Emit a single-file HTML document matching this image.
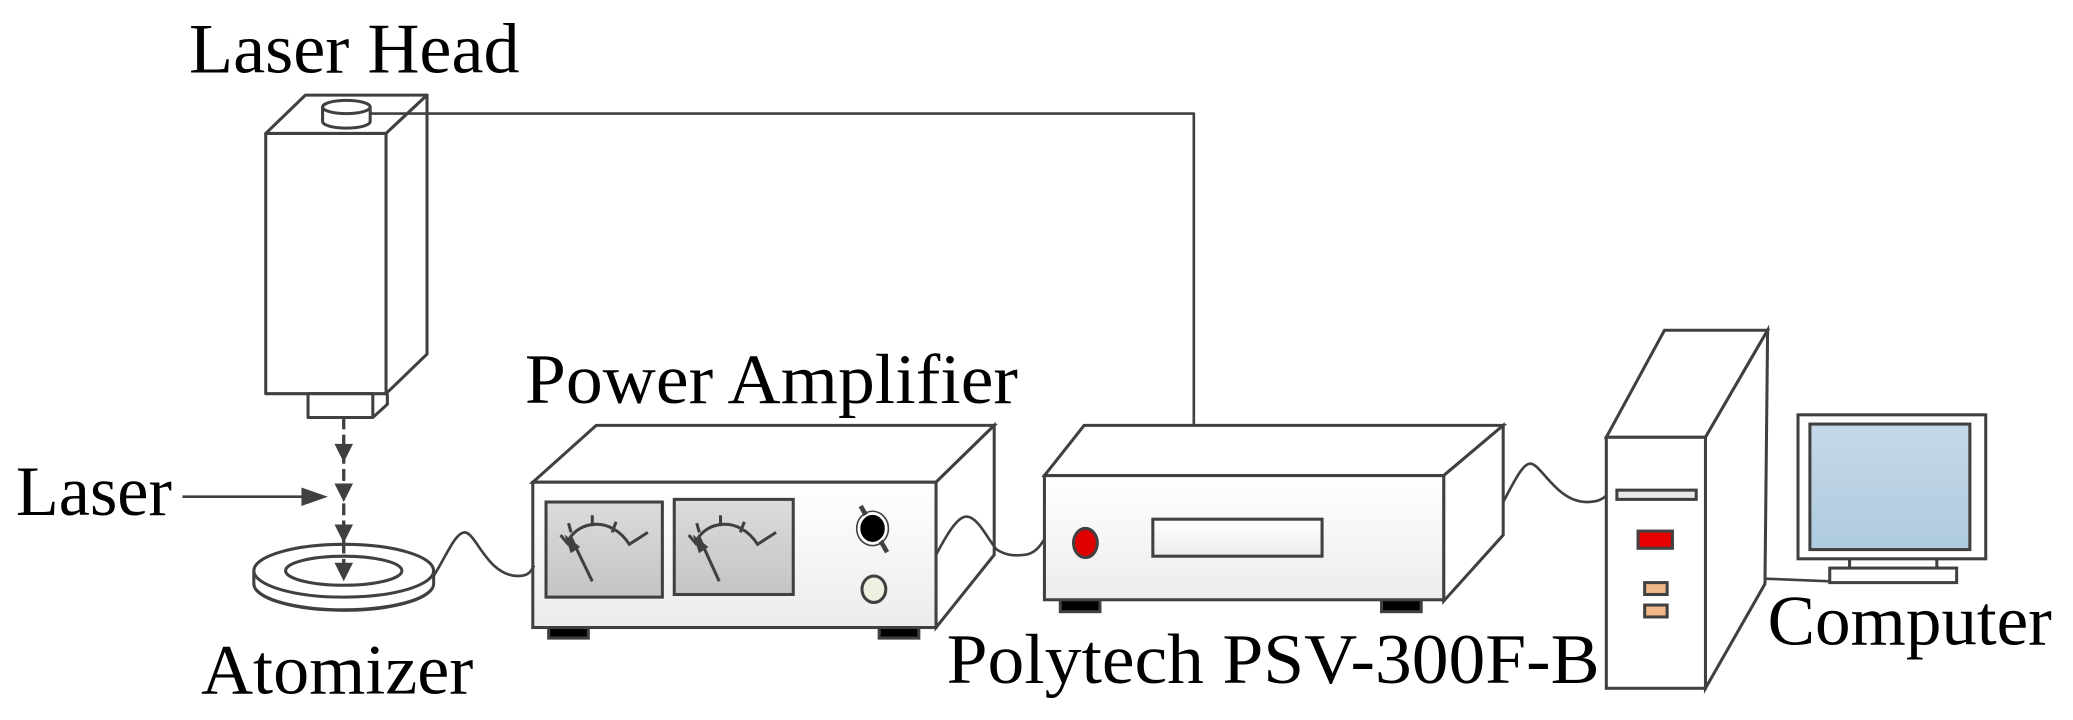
<!DOCTYPE html>
<html><head><meta charset="utf-8"><style>
html,body{margin:0;padding:0;background:#fff;}
svg{display:block;}
text{font-family:"Liberation Serif",serif;fill:#000;}
</style></head><body>
<svg width="2073" height="720" viewBox="0 0 1568 545" preserveAspectRatio="none" xmlns="http://www.w3.org/2000/svg">
<defs>
<linearGradient id="fg" x1="0" y1="0" x2="0" y2="1"><stop offset="0" stop-color="#ffffff"/><stop offset="1" stop-color="#ececec"/></linearGradient>
<linearGradient id="mg" x1="0" y1="0" x2="0" y2="1"><stop offset="0" stop-color="#dcdcdc"/><stop offset="1" stop-color="#c4c4c4"/></linearGradient>
<linearGradient id="sg" x1="0" y1="0" x2="0" y2="1"><stop offset="0" stop-color="#c6d8e8"/><stop offset="1" stop-color="#aecbe0"/></linearGradient>
</defs>
<g stroke="#404040" stroke-width="2.3" fill="none" stroke-linejoin="round">
<rect x="201" y="101" width="91" height="197" fill="#fff"/>
<path d="M201,101 L231,72 L323,72 L292,101 Z" fill="#fff"/>
<path d="M292,101 L323,72 L323,268 L292,298 Z" fill="#fff"/>
<rect x="233" y="298" width="49" height="18" fill="#fff"/>
<path d="M282,316 L293,306 L293,298" />
<path d="M244,81 L244,92 A18,5 0 0 0 280,92 L280,81" fill="#fff"/>
<ellipse cx="262" cy="81" rx="18" ry="5" fill="#fff"/>
<path d="M280,86 L903,86 L903,322" stroke-width="2"/>
<path d="M260,316 L260,437" stroke-width="2.5" stroke-dasharray="9,4"/>
</g>
<g fill="#404040">
<path d="M253,336 L267,336 L260,350 Z"/>
<path d="M253,366 L267,366 L260,380 Z"/>
<path d="M253,397 L267,397 L260,411 Z"/>
<path d="M228,369 L248,376 L228,383 Z"/>
</g>
<path d="M138,376 L230,376" stroke="#404040" stroke-width="2"/>
<g stroke="#404040" stroke-width="2.3" fill="#fff">
<path d="M192,432 L192,442 A68,20 0 0 0 328,442 L328,432" />
<path d="M194,446 A68,20 0 0 0 326,446" fill="none" stroke-width="1.5"/>
<ellipse cx="260" cy="432" rx="68" ry="20"/>
<ellipse cx="260" cy="432" rx="44" ry="11"/>
</g>
<path d="M260,410 L260,437" stroke="#404040" stroke-width="2.5" stroke-dasharray="9,4"/>
<path d="M253,426 L267,426 L260,440 Z" fill="#404040"/>
<!-- power amplifier -->
<g stroke="#404040" stroke-width="2.3">
<rect x="415" y="474" width="30" height="9" fill="#000"/>
<rect x="665" y="474" width="30" height="9" fill="#000"/>
<path d="M403,365 L451,322 L752,322 L708,365 Z" fill="#fff"/>
<path d="M708,365 L752,322 L752,420 L708,475 Z" fill="#fff"/>
<rect x="403" y="365" width="305" height="110" fill="url(#fg)"/>
<rect x="413" y="380" width="88" height="72" fill="url(#mg)"/>
<rect x="510" y="378" width="90" height="72" fill="url(#mg)"/>
<g fill="none">
<path d="M424,405 L429,411 C436,394 462,390 476,412 L490,403"/>
<path d="M430,396 L432,403 M448,390 L448,398 M466,395 L463,403"/>
<path d="M521,405 L526,411 C533,394 559,390 573,412 L587,403"/>
<path d="M527,396 L529,403 M545,390 L545,398 M563,395 L560,403"/>
<path d="M432,407 L448,440 M529,407 L544,440"/>
</g>
<path d="M428,406 L438,414 L432,418 Z M525,406 L535,414 L529,418 Z" fill="#404040" stroke-width="1"/>
<path d="M651,383 L671,418" stroke-width="3.5"/>
<ellipse cx="660" cy="400" rx="10" ry="11" fill="#000" stroke="#fff" stroke-width="1.5"/>
<ellipse cx="660" cy="400" rx="12" ry="13" fill="none" stroke-width="1.2"/>
<ellipse cx="661" cy="446" rx="9" ry="10" fill="#eef0e0"/>
</g>
<!-- polytech -->
<g stroke="#404040" stroke-width="2.3">
<rect x="802" y="453" width="30" height="10" fill="#000"/>
<rect x="1045" y="453" width="30" height="10" fill="#000"/>
<path d="M790,360 L820,322 L1137,322 L1092,360 Z" fill="#fff"/>
<path d="M1092,360 L1137,322 L1137,405 L1092,455 Z" fill="#fff"/>
<rect x="790" y="360" width="302" height="94" fill="url(#fg)"/>
<ellipse cx="821" cy="411" rx="9" ry="11" fill="#e00000"/>
<rect x="872" y="393" width="128" height="28" fill="url(#fg)"/>
</g>
<!-- computer -->
<g stroke="#404040" stroke-width="2.3">
<path d="M1215,331 L1259,250 L1337,250 L1290,331 Z" fill="#fff"/>
<path d="M1290,331 L1337,250 L1335,442 L1290,521 Z" fill="#fff"/>
<rect x="1215" y="331" width="75" height="190" fill="#fff"/>
<rect x="1223" y="371" width="60" height="7" fill="#e8e8e8"/>
<rect x="1239" y="402" width="26" height="13" fill="#e80000"/>
<rect x="1244" y="441" width="17" height="9" fill="#f0b888"/>
<rect x="1244" y="458" width="17" height="9" fill="#f0b888"/>
<rect x="1360" y="314" width="142" height="109" fill="#fff"/>
<rect x="1369" y="321" width="121" height="95" fill="url(#sg)"/>
<path d="M1399,423 L1399,430 M1465,423 L1465,430" fill="none"/>
<rect x="1384" y="430" width="96" height="11" fill="#fff"/>
</g>
<!-- wires on top -->
<g stroke="#404040" stroke-width="2" fill="none">
<path d="M328,436 C338,420 344,404 351,403 C360,402 368,436 392,436 C400,436 402,432 404,428"/>
<path d="M708,420 C716,405 724,391 731,391 C740,391 748,410 754,416 C760,420 766,421 775,420 C783,419 787,413 790,408"/>
<path d="M1137,380 C1145,365 1152,350 1158,351 C1166,352 1178,380 1200,380 C1208,380 1212,378 1215,375"/>
<path d="M1335,438 L1384,440"/>
</g>
<text x="143" y="55" font-size="54" textLength="250" lengthAdjust="spacingAndGlyphs">Laser Head</text>
<text x="12" y="390" font-size="54" textLength="118" lengthAdjust="spacingAndGlyphs">Laser</text>
<text x="152" y="525" font-size="54" textLength="206" lengthAdjust="spacingAndGlyphs">Atomizer</text>
<text x="397" y="305" font-size="54" textLength="373" lengthAdjust="spacingAndGlyphs">Power Amplifier</text>
<text x="716" y="517" font-size="54" textLength="494" lengthAdjust="spacingAndGlyphs">Polytech PSV-300F-B</text>
<text x="1337" y="488" font-size="54" textLength="215" lengthAdjust="spacingAndGlyphs">Computer</text>
</svg>
</body></html>
